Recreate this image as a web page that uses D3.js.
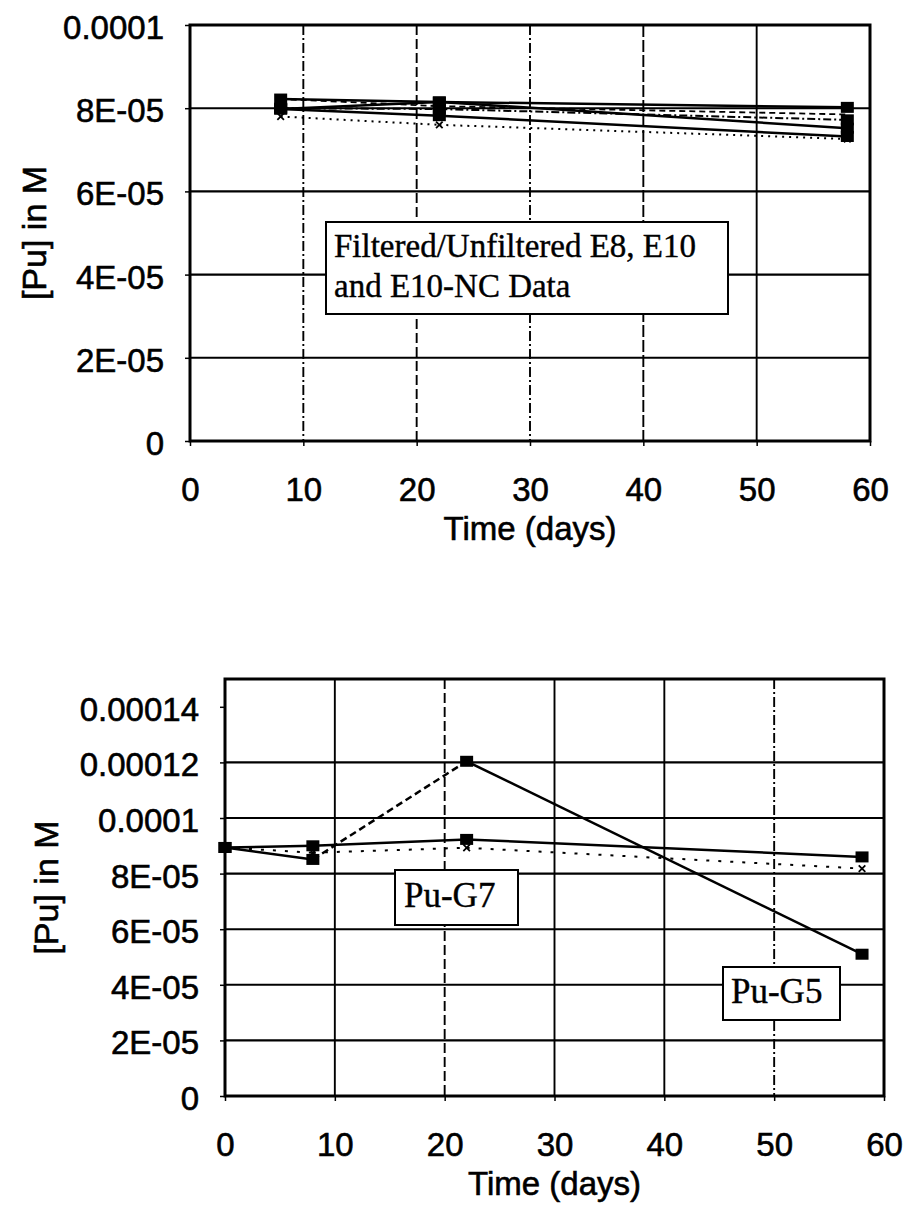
<!DOCTYPE html>
<html>
<head>
<meta charset="utf-8">
<script src="https://cdn.jsdelivr.net/npm/d3@7"></script>
<style>
  body { margin: 0; background: #fff; }
  svg text { fill: #000; }
</style>
</head>
<body>
<div id="chart"></div>
<script>
// ---- data ----
var xTicks = [0, 10, 20, 30, 40, 50, 60];

// top panel: filtered / unfiltered E8, E10, E10-NC
var topDays = [8, 22, 58];
var e8Unfiltered   = [8.22e-5, 8.15e-5, 8.02e-5];
var e8Filtered     = [7.98e-5, 8.15e-5, 7.52e-5];
var e10Unfiltered  = [7.98e-5, 7.82e-5, 7.32e-5];
var e10Filtered    = [8.00e-5, 7.98e-5, 7.72e-5];
var e10ncUnfiltered = [7.80e-5, 7.60e-5, 7.26e-5];
var e10ncFiltered  = [8.22e-5, 8.05e-5, 7.85e-5];
var topYTicks  = [0, 2e-5, 4e-5, 6e-5, 8e-5, 1e-4];
var topYLabels = ["0", "2E-05", "4E-05", "6E-05", "8E-05", "0.0001"];

// bottom panel: Pu-G5 and Pu-G7
var bottomDays = [0, 8, 22, 58];
var puG5         = [8.94e-5, 8.51e-5, 12.04e-5, 5.10e-5];
var puG7Unfiltered = [8.94e-5, 9.00e-5, 9.23e-5, 8.60e-5];
var puG7Filtered   = [8.94e-5, 8.75e-5, 8.93e-5, 8.18e-5];
var bottomYTicks  = [0, 2e-5, 4e-5, 6e-5, 8e-5, 1e-4, 1.2e-4, 1.4e-4];
var bottomYLabels = ["0", "2E-05", "4E-05", "6E-05", "8E-05", "0.0001", "0.00012", "0.00014"];

var svg = d3.select("#chart").append("svg")
    .attr("width", 906)
    .attr("height", 1205);

var sans = "'Liberation Sans', Arial, sans-serif";
var serif = "'Liberation Serif', 'Times New Roman', serif";

function drawPanel(p) {
    var x = d3.scaleLinear().domain([0, 60]).range([p.left, p.right]);
    var y = d3.scaleLinear().domain([0, p.yMax]).range([p.bottom, p.top]);
    var g = svg.append("g");

    // horizontal gridlines (solid)
    g.append("g").selectAll("line")
        .data(p.hGrid)
        .enter().append("line")
        .attr("x1", p.left).attr("x2", p.right)
        .attr("y1", d => y(d)).attr("y2", d => y(d))
        .attr("stroke", "#000").attr("stroke-width", 2.1);

    // vertical gridlines (scan shows some of them broken)
    g.append("g").selectAll("line")
        .data([10, 20, 30, 40, 50])
        .enter().append("line")
        .attr("x1", d => x(d)).attr("x2", d => x(d))
        .attr("y1", p.top).attr("y2", p.bottom)
        .attr("stroke", "#000").attr("stroke-width", 1.9)
        .attr("stroke-dasharray", (d, i) => p.vDash[i]);

    // series lines, drawn segment by segment
    p.series.forEach(function(s) {
        for (var i = 0; i < s.days.length - 1; i++) {
            var dash = s.segDash ? s.segDash[i] : s.dash;
            g.append("line")
                .attr("x1", x(s.days[i])).attr("y1", y(s.values[i]))
                .attr("x2", x(s.days[i + 1])).attr("y2", y(s.values[i + 1]))
                .attr("stroke", "#000")
                .attr("stroke-width", s.width || 2.5)
                .attr("stroke-dasharray", dash);
        }
    });

    // markers
    p.series.forEach(function(s) {
        var pts = s.days.map((d, i) => ({day: d, v: s.values[i]}));
        if (s.marker === "square") {
            g.append("g").selectAll("rect")
                .data(pts)
                .enter().append("rect")
                .attr("x", d => x(d.day) - 6.5)
                .attr("y", d => y(d.v) - 5.5)
                .attr("width", 13).attr("height", 11)
                .attr("fill", "#000");
        } else if (s.marker === "x") {
            g.append("g").selectAll("path")
                .data(pts)
                .enter().append("path")
                .attr("transform", d => "translate(" + x(d.day) + "," + y(d.v) + ")")
                .attr("d", d3.symbol().type(d3.symbolX).size(30))
                .attr("fill", "none").attr("stroke", "#000").attr("stroke-width", 1.8);
        }
    });

    // frame
    g.append("rect")
        .attr("x", p.left).attr("y", p.top)
        .attr("width", p.right - p.left).attr("height", p.bottom - p.top)
        .attr("fill", "none").attr("stroke", "#000").attr("stroke-width", 3);

    // Y axis
    var yAxis = g.append("g")
        .attr("transform", "translate(" + p.left + ",0)")
        .call(d3.axisLeft(y)
            .tickValues(p.yTicks)
            .tickFormat((d, i) => p.yLabels[i])
            .tickSize(5).tickPadding(21));
    yAxis.select(".domain").remove();
    yAxis.selectAll("line").attr("stroke-width", 1.5);
    yAxis.selectAll("text")
        .attr("font-family", sans).attr("font-size", 33)
        .attr("dy", "0.41em").style("fill", "#000")
        .attr("stroke", "#000").attr("stroke-width", 0.6);

    // X axis
    var xAxis = g.append("g")
        .attr("transform", "translate(0," + p.bottom + ")")
        .call(d3.axisBottom(x)
            .tickValues(xTicks)
            .tickSize(5).tickPadding(32));
    xAxis.select(".domain").remove();
    xAxis.selectAll("line").attr("stroke-width", 1.5);
    xAxis.selectAll("text")
        .attr("font-family", sans).attr("font-size", 33)
        .style("fill", "#000")
        .attr("stroke", "#000").attr("stroke-width", 0.6);

    // axis titles
    g.append("text")
        .attr("x", (p.left + p.right) / 2)
        .attr("y", p.bottom + 99)
        .attr("text-anchor", "middle")
        .attr("font-family", sans).attr("font-size", 33)
        .attr("stroke", "#000").attr("stroke-width", 0.6)
        .text("Time (days)");

    g.append("text")
        .attr("transform", "translate(" + p.yTitleX + "," + (p.top + p.bottom) / 2 + ") rotate(-90)")
        .attr("text-anchor", "middle")
        .attr("font-family", sans).attr("font-size", 34)
        .attr("stroke", "#000").attr("stroke-width", 0.6)
        .text("[Pu] in M");

    // annotation boxes
    p.notes.forEach(function(n) {
        g.append("rect")
            .attr("x", n.x).attr("y", n.y)
            .attr("width", n.w).attr("height", n.h)
            .attr("fill", "#fff").attr("stroke", "#000").attr("stroke-width", 2);
        n.lines.forEach(function(t, i) {
            g.append("text")
                .attr("x", n.x + n.pad)
                .attr("y", n.y + n.base + i * n.lineH)
                .attr("font-family", serif).attr("font-size", n.size)
                .attr("stroke", "#000").attr("stroke-width", 0.4)
                .text(t);
        });
    });
}

drawPanel({
    left: 190, right: 870, top: 25, bottom: 441,
    yMax: 1e-4,
    yTicks: topYTicks, yLabels: topYLabels,
    hGrid: [2e-5, 4e-5, 6e-5, 8e-5],
    vDash: ["10,3,2,3", "10,4", "10,3,2,3", "12,3", null],
    yTitleX: 46,
    series: [
        {days: topDays, values: e8Unfiltered, marker: "square", dash: null},
        {days: topDays, values: e8Filtered, marker: "square", dash: null},
        {days: topDays, values: e10Unfiltered, marker: "square", dash: null},
        {days: topDays, values: e10Filtered, marker: "square", dash: "8,3,2,3", width: 2},
        {days: topDays, values: e10ncUnfiltered, marker: "x", dash: "2,5", width: 2},
        {days: topDays, values: e10ncFiltered, marker: "none", dash: "6,4", width: 1.8}
    ],
    notes: [
        {x: 326, y: 222, w: 402, h: 92, pad: 8, base: 35, lineH: 40, size: 33,
         lines: ["Filtered/Unfiltered E8, E10", "and E10-NC Data"]}
    ]
});

drawPanel({
    left: 225, right: 884, top: 679, bottom: 1096,
    yMax: 1.5e-4,
    yTicks: bottomYTicks, yLabels: bottomYLabels,
    hGrid: [2e-5, 4e-5, 6e-5, 8e-5, 1e-4, 1.2e-4],
    vDash: [null, "10,4", null, null, "10,3,2,3"],
    yTitleX: 58,
    series: [
        {days: bottomDays, values: puG7Unfiltered, marker: "square", dash: null},
        {days: bottomDays, values: puG7Filtered, marker: "x", dash: "3,9", width: 2},
        {days: bottomDays, values: puG5, marker: "square", segDash: [null, "7,4", null]}
    ],
    notes: [
        {x: 395, y: 870, w: 123, h: 55, pad: 9, base: 37, lineH: 0, size: 35,
         lines: ["Pu-G7"]},
        {x: 723, y: 967, w: 117, h: 53, pad: 8, base: 36, lineH: 0, size: 35,
         lines: ["Pu-G5"]}
    ]
});
</script>
</body>
</html>
